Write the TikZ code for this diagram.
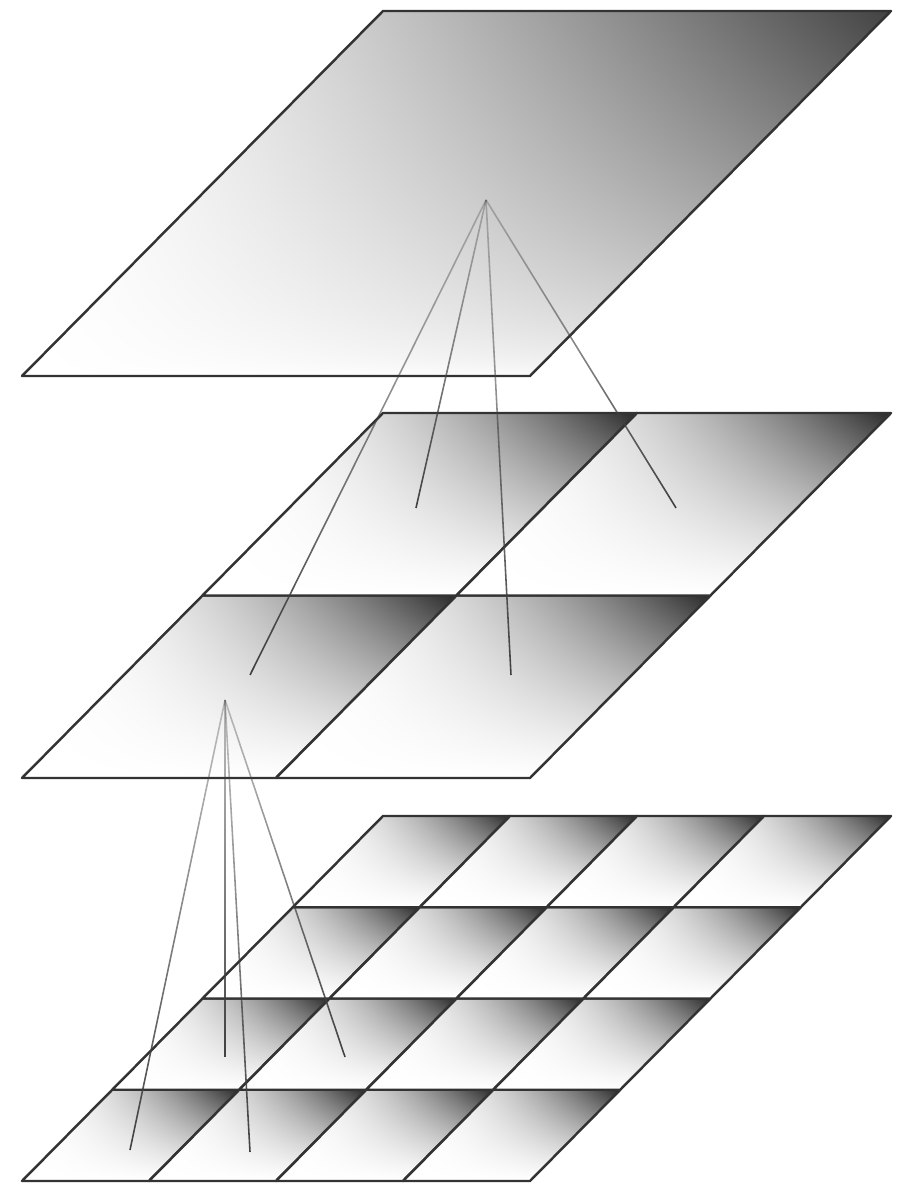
\documentclass[tikz,border=0pt]{standalone}
\usepackage{tikz}
\usetikzlibrary{fadings}

\pgfdeclarefunctionalshading{planeshade}{\pgfpoint{-25bp}{-25bp}}{\pgfpoint{25bp}{25bp}}{}{
  25 add 50 div abs 0.6 exp exch 25 add 50 div abs 1.35 exp mul 0.74 mul 1 exch sub dup dup}
\pgfdeclarefunctionalshading{cellshade}{\pgfpoint{-25bp}{-25bp}}{\pgfpoint{25bp}{25bp}}{}{
  25 add 50 div abs 1.1 exp exch 25 add 50 div abs 1.9 exp mul 0.84 mul 1 exch sub dup dup}
\tikzfading[name=fade apex, top color=transparent!70, middle color=transparent!10, bottom color=transparent!0]
\tikzset{
  layeredge/.style={draw=black!80, line width=0.7pt, line join=round},
  link/.style={draw=black!75, line width=0.45pt, path fading=fade apex},
}

\begin{document}
\begin{tikzpicture}
\useasboundingbox (0,0) rectangle (9.08,11.86);
% top layer
\shadedraw[shading=planeshade, layeredge] (0.22,8.10) -- ++(5.08,0) -- ++(3.61,3.65) -- ++(-5.08,0) -- cycle;
% middle layer, 2x2
\foreach \i in {0,1} \foreach \j in {0,1} {
  \shadedraw[shading=cellshade, layeredge] ({0.22+2.54*\i+1.805*\j},{4.08+1.825*\j}) -- ++(2.54,0) -- ++(1.805,1.825) -- ++(-2.54,0) -- cycle;
}
% bottom layer, 4x4
\foreach \i in {0,...,3} \foreach \j in {0,...,3} {
  \shadedraw[shading=cellshade, layeredge] ({0.22+1.27*\i+0.9025*\j},{0.05+0.9125*\j}) -- ++(1.27,0) -- ++(0.9025,0.9125) -- ++(-1.27,0) -- cycle;
}
\coordinate (top) at (4.86,9.86);
\coordinate (mid) at (2.25,4.86);
\foreach \n/\x/\y in {m1/4.16/6.78, m2/6.76/6.78, m3/2.50/5.11, m4/5.11/5.11,
                      b1/1.30/0.36, b2/2.25/1.29, b3/2.50/0.34, b4/3.45/1.29}
  \coordinate (\n) at (\x,\y);
\foreach \p in {m1,m2,m3,m4} \draw[link] (top) -- (\p);
\foreach \p in {b1,b2,b3,b4} \draw[link] (mid) -- (\p);
\end{tikzpicture}
\end{document}
